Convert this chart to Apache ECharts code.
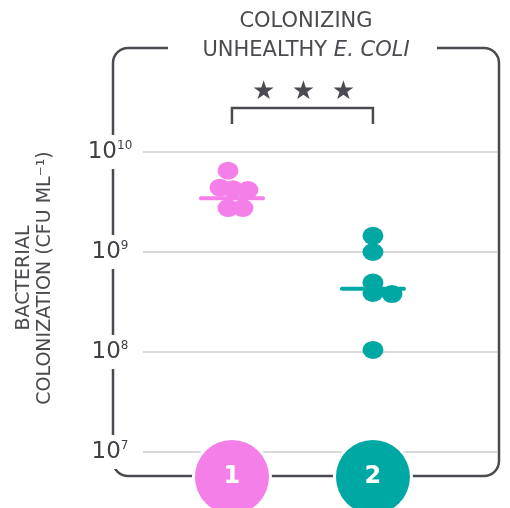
<!DOCTYPE html>
<html><head><meta charset="utf-8">
<script src="https://cdn.jsdelivr.net/npm/echarts@6/dist/echarts.min.js"></script>
<style>html,body{margin:0;padding:0;background:#fff}#c{width:510px;height:508px}</style>
</head><body><div id="c"></div>
<script>
// ---- data ----
const groups = ['1', '2'];
const yExponents = [7, 8, 9, 10];
const group1X = [0.972, 0.915, 1.007, 1.113, 0.972, 1.078];
const group1Y = [6.5e9, 4.4e9, 4.25e9, 4.16e9, 2.75e9, 2.75e9];
const group2X = [2.0, 2.0, 2.0, 2.0, 2.135, 2.0];
const group2Y = [1.45e9, 1.0e9, 4.95e8, 3.9e8, 3.8e8, 1.05e8];
const medians = [3.45e9, 4.3e8];
const titleLines = ['COLONIZING', 'UNHEALTHY', 'E. COLI'];
const yName = ['BACTERIAL', 'COLONIZATION (CFU ML⁻¹)'];
const significance = '★  ★  ★';

// ---- styles ----
const FONT = 'DejaVu Sans';
const PINK = '#F47FE8', TEAL = '#00A8A3', INK = '#4A4A51', TXT = '#4a4a50';

const chart = echarts.init(document.getElementById('c'), null, {renderer: 'canvas'});
const circleTok = c => ({width: 74, height: 74, lineHeight: 74, borderRadius: 37,
  backgroundColor: c, borderColor: '#fff', borderWidth: 3, color: '#fff',
  fontSize: 24, fontWeight: 'bold', fontFamily: FONT, align: 'center'});
const medLine = (cx, v) => [[cx - 0.22, v], [cx + 0.22, v]];

chart.setOption({
  animation: false,
  grid: {left: 143, right: 12, top: 152, bottom: 56, outerBoundsMode: 'none', containLabel: false},
  xAxis: {
    type: 'value', min: 0.369, max: 2.887, offset: 25, z: 1,
    axisLine: {show: false}, axisTick: {show: false}, splitLine: {show: false},
    axisLabel: {
      customValues: [1, 2], margin: 0, verticalAlign: 'middle',
      formatter: v => '{g' + v + '|' + groups[v - 1] + '}',
      rich: {g1: circleTok(PINK), g2: circleTok(TEAL)}
    }
  },
  yAxis: {
    type: 'log', logBase: 10, min: Math.pow(10, yExponents[0]), max: Math.pow(10, yExponents[yExponents.length - 1]),
    axisLine: {show: false}, axisTick: {show: false},
    splitLine: {lineStyle: {color: '#cccccc', width: 1.5}},
    axisLabel: {
      align: 'center', margin: 33, backgroundColor: '#fff', padding: [5, 3],
      formatter: v => '{b|10}{s|' + Math.round(Math.log10(v)) + '}',
      rich: {
        b: {fontSize: 23, lineHeight: 24, color: '#3f3f45', fontFamily: FONT},
        s: {fontSize: 12, lineHeight: 12, verticalAlign: 'top', color: '#3f3f45', fontFamily: FONT}
      }
    }
  },
  series: [
    {type: 'scatter', data: group1X.map((x, i) => [x, group1Y[i]]), symbol: 'circle', symbolSize: [21, 18],
     itemStyle: {color: PINK, opacity: 1}, z: 2},
    {type: 'scatter', data: group2X.map((x, i) => [x, group2Y[i]]), symbol: 'circle', symbolSize: [21, 18],
     itemStyle: {color: TEAL, opacity: 1}, z: 2},
    {type: 'line', data: medLine(1, medians[0]), symbol: 'none', silent: true, z: 3,
     lineStyle: {color: PINK, width: 4, cap: 'round'}},
    {type: 'line', data: medLine(2, medians[1]), symbol: 'none', silent: true, z: 3,
     lineStyle: {color: TEAL, width: 4, cap: 'round'}}
  ]
});

const px1 = chart.convertToPixel({xAxisIndex: 0}, 1);
const px2 = chart.convertToPixel({xAxisIndex: 0}, 2);
chart.setOption({
  graphic: [
    {type: 'rect', z: -2, silent: true,
     shape: {x: 113, y: 48, width: 386, height: 428, r: 15},
     style: {stroke: INK, lineWidth: 2.5, fill: 'none'}},
    {type: 'rect', z: -1, silent: true,
     shape: {x: 168, y: 44, width: 269, height: 8},
     style: {fill: '#fff'}},
    {type: 'polyline', silent: true,
     shape: {points: [[px1, 124], [px1, 108], [px2, 108], [px2, 124]]},
     style: {stroke: INK, lineWidth: 2.5, fill: 'none'}},
    {type: 'text', x: (px1 + px2) / 2 + 1, y: 92, silent: true,
     style: {text: significance, fontSize: 26, fontFamily: FONT, fill: INK, align: 'center', verticalAlign: 'middle'}},
    {type: 'text', x: 306, y: 7, silent: true,
     style: {text: titleLines[0] + '\n' + titleLines[1] + ' {i|' + titleLines[2] + '}',
       fontSize: 21, lineHeight: 29, fontFamily: FONT, fill: TXT, align: 'center', verticalAlign: 'top',
       rich: {i: {fontSize: 21, lineHeight: 29, fontStyle: 'italic', fontFamily: FONT, fill: TXT}}}},
    {type: 'text', x: 35, y: 278, rotation: Math.PI / 2, silent: true,
     style: {text: yName.join('\n'), fontSize: 19, lineHeight: 21, fontFamily: FONT, fill: TXT,
       align: 'center', verticalAlign: 'middle'}}
  ]
});
</script></body></html>
